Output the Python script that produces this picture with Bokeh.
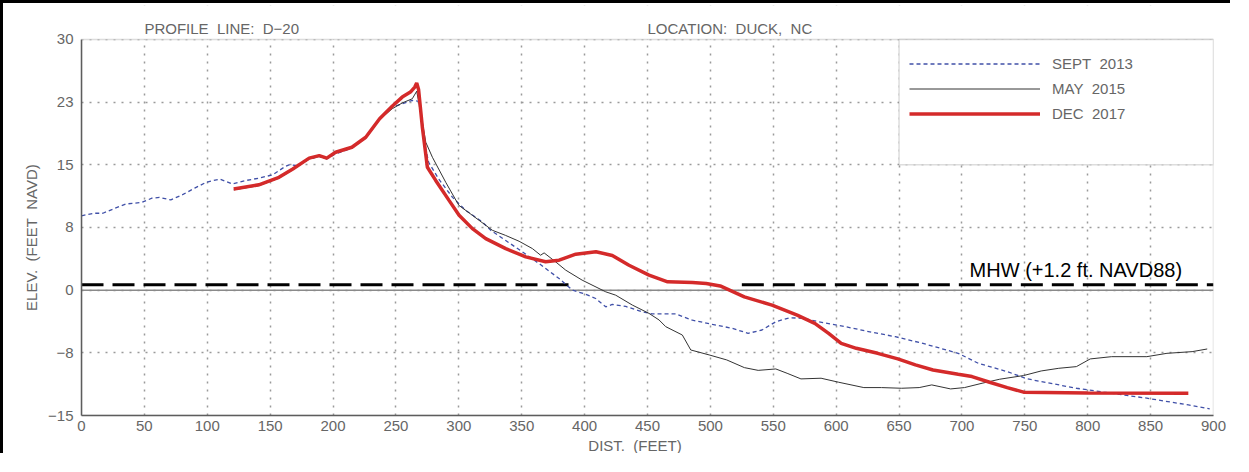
from bokeh.plotting import figure
from bokeh.models import Range1d, FixedTicker, Label, BoxAnnotation, Span, Legend, LegendItem
from bokeh.embed import file_html
from bokeh.resources import INLINE

# ---------------- data ----------------
sept_x = [0, 10, 17, 25, 35, 48, 56, 62, 71, 80, 90, 99, 110, 120, 130, 141, 152, 162, 165,
          172, 181, 189, 195, 202, 215, 226, 237, 247, 255, 263, 268, 271, 273.7, 276, 284,
          295, 305.5, 318.7, 325.4, 337, 350.5, 363.8, 379.7, 390.3, 400.9, 408.8, 416.8,
          422, 432.7, 446, 453.9, 472.4, 485.7, 501.6, 517.5, 530, 541, 552, 563, 574, 586,
          605, 624, 647, 669, 697, 713, 736, 752, 791, 813, 847, 880, 897]
sept_y = [8.9, 9.2, 9.2, 9.7, 10.3, 10.5, 11.0, 11.1, 10.8, 11.4, 12.2, 12.9, 13.3, 12.7, 13.1,
          13.4, 13.8, 14.8, 15.0, 14.9, 15.7, 16.0, 15.7, 16.3, 17.0, 18.2, 20.4, 21.9, 22.3,
          22.7, 22.6, 20.0, 16.9, 15.3, 13.3, 11.1, 9.55, 8.16, 7.16, 5.97, 4.58, 3.18, 1.39,
          0.0, -0.5, -1.0, -1.99, -1.71, -1.95, -2.6, -2.85, -2.85, -3.6, -4.09, -4.57, -5.17,
          -4.77, -3.78, -3.3, -3.38, -3.78, -4.3, -4.9, -5.57, -6.37, -7.56, -8.75, -9.75,
          -10.62, -11.74, -12.21, -12.93, -13.73, -14.2]

may_x = [121, 141, 157, 168, 181, 189, 195, 202, 215, 226, 237, 247, 255, 263, 266.5, 270,
         273.7, 279, 289.6, 300, 310.8, 326.7, 337, 347.9, 358.5, 365, 367.8, 377, 385, 398,
         416.8, 424.7, 438, 451.2, 459.2, 464.5, 477.7, 484.4, 499, 513, 527, 538, 552, 561,
         572, 588, 602, 622, 636, 652, 666, 676, 691, 702, 716, 730, 749, 763, 777, 791, 802,
         819, 847, 863, 883, 895]
may_y = [12.0, 12.5, 13.4, 14.4, 15.7, 16.0, 15.7, 16.4, 17.0, 18.2, 20.4, 21.7, 22.4, 22.9,
         23.8, 21.0, 17.7, 15.9, 12.9, 10.15, 8.95, 7.16, 6.56, 5.85, 4.97, 4.18, 4.46, 3.38,
         2.39, 1.2, -0.2, -0.6, -1.79, -2.78, -3.57, -4.37, -5.37, -7.16, -7.75, -8.35, -9.27,
         -9.6, -9.43, -9.95, -10.62, -10.54, -11.02, -11.66, -11.66, -11.74, -11.66, -11.34,
         -11.82, -11.66, -11.14, -10.66, -10.22, -9.67, -9.35, -9.15, -8.23, -7.96, -7.96,
         -7.56, -7.36, -7.04]

dec_x = [121, 141, 157, 168, 181, 189, 195, 202, 215, 226, 237, 247, 255, 261.5, 265, 266.5,
         268, 271, 273.5, 275, 281.6, 292.2, 300.2, 310.8, 321.4, 337.3, 353.2, 369, 379.7,
         393, 409, 422, 435.3, 451.2, 466, 485.7, 496.7, 507.8, 527, 549, 569, 583, 594, 604,
         616, 633, 649, 663, 677, 697, 708, 722, 736, 749, 800, 880]
dec_y = [12.1, 12.6, 13.5, 14.5, 15.8, 16.1, 15.8, 16.5, 17.1, 18.3, 20.5, 22.0, 23.1, 23.7,
         24.3, 24.8, 24.0, 19.5, 16.5, 14.7, 13.13, 10.74, 8.95, 7.36, 6.17, 4.97, 3.98, 3.39,
         3.59, 4.3, 4.6, 4.15, 2.98, 1.8, 1.0, 0.92, 0.8, 0.5, -0.8, -1.79, -2.98, -3.98,
         -5.17, -6.37, -6.96, -7.56, -8.23, -8.95, -9.55, -10.07, -10.34, -11.02, -11.66,
         -12.21, -12.3, -12.33]

mhw_x0 = [0, 525]
mhw_x1 = [393, 900]
mhw_elev = 0.65

NB = "\u00a0"
x_ticks = list(range(0, 901, 50))
y_ticks = [-15, -7.5, 0, 7.5, 15, 22.5, 30]
y_tick_labels = ["\u221215", "\u22128", "0", "8", "15", "23", "30"]
series_names = ["SEPT" + NB + " 2013", "MAY" + NB + " 2015", "DEC" + NB + " 2017"]
header_left = "PROFILE" + NB + " LINE:" + NB + " D\u221220"
header_right = "LOCATION:" + NB + " DUCK," + NB + " NC"
mhw_label = "MHW (+1.2 ft. NAVD88)"
x_title = "DIST." + NB + " (FEET)" + NB * 6
y_title = "ELEV." + NB + " (FEET" + NB + " NAVD)" + NB * 13

FONT = "Liberation Sans"
GRAY = "#666666"
FRAME = "#8f8f8f"

# y range extends above 30 so the header texts sit inside the frame
p = figure(width=1230, height=453, x_range=Range1d(0, 900), y_range=Range1d(-15, 34.06),
           output_backend="svg", toolbar_location=None,
           min_border_left=78, min_border_right=20, min_border_top=2, min_border_bottom=40,
           background_fill_color="white", border_fill_color="white")
p.styles = {"border-left": "3px solid black", "border-top": "3px solid black"}
p.outline_line_color = None

for ax in (p.xaxis[0], p.yaxis[0]):
    ax.axis_line_color = "#555555"
    ax.axis_line_width = 1.5
    ax.major_tick_line_color = None
    ax.minor_tick_line_color = None
    ax.major_label_text_color = GRAY
    ax.major_label_text_font = FONT
    ax.major_label_text_font_size = "15px"
    ax.axis_label_text_font = FONT
    ax.axis_label_text_font_style = "normal"
    ax.axis_label_text_font_size = "15px"
    ax.axis_label_text_color = GRAY

p.xaxis.ticker = FixedTicker(ticks=x_ticks)
p.xaxis.major_label_standoff = -1
p.xaxis.axis_label = x_title
p.xaxis.axis_label_standoff = 3

p.yaxis.bounds = (-15, 30)
p.yaxis.ticker = FixedTicker(ticks=y_ticks)
p.yaxis.major_label_overrides = {t: s for t, s in zip(y_ticks, y_tick_labels)}
p.yaxis.major_label_standoff = 2
p.yaxis.axis_label = y_title
p.yaxis.axis_label_standoff = 5

p.xgrid.ticker = FixedTicker(ticks=x_ticks)
p.ygrid.ticker = FixedTicker(ticks=y_ticks)
for g in (p.xgrid[0], p.ygrid[0]):
    g.grid_line_color = "#9a9a9a"
    g.grid_line_dash = "2 6"
    g.grid_line_width = 1.5

p.add_layout(Span(location=0, dimension="width", line_color="#8a8a8a", line_width=1.5,
                  level="underlay"))

# MHW line
p.segment(x0=mhw_x0, x1=mhw_x1, y0=[mhw_elev] * len(mhw_x0), y1=[mhw_elev] * len(mhw_x0),
          line_color="black", line_width=3, line_dash="22 9")

r_sept = p.line(sept_x, sept_y, line_color="#4050a8", line_width=1.3, line_dash="4 3")
r_may = p.line(may_x, may_y, line_color="#333333", line_width=1)
r_dec = p.line(dec_x, dec_y, line_color="#d42a2a", line_width=3.5)

# white band above the plotting box (hides grid lines there)
p.add_layout(BoxAnnotation(bottom=30, fill_color="white", fill_alpha=1, line_alpha=0))
# plotting box outline
p.add_layout(BoxAnnotation(left=0, right=900, bottom=-15, top=30, fill_alpha=0,
                           line_color=FRAME, line_width=1.5))
# legend frame
p.add_layout(BoxAnnotation(left=650, right=900, bottom=15, top=30, fill_color="white",
                           fill_alpha=1, line_color=FRAME, line_width=1.5))
legend = Legend(items=[LegendItem(label=series_names[0], renderers=[r_sept]),
                       LegendItem(label=series_names[1], renderers=[r_may]),
                       LegendItem(label=series_names[2], renderers=[r_dec])],
                location=(828, 289), margin=0, padding=0, spacing=0,
                glyph_width=131, glyph_height=25, label_height=25, label_standoff=12,
                border_line_color=None, background_fill_alpha=0,
                label_text_font=FONT, label_text_font_size="15px", label_text_color=GRAY)
p.add_layout(legend)

p.add_layout(Label(x=875, y=2.45, text=mhw_label, text_align="right",
                   text_baseline="alphabetic", text_font=FONT, text_font_size="20px",
                   text_color="black"))
p.add_layout(Label(x=50, y=31.25, text=header_left, text_align="left",
                   text_baseline="middle", text_font=FONT, text_font_size="15px",
                   text_color=GRAY))
p.add_layout(Label(x=450, y=31.25, text=header_right, text_align="left",
                   text_baseline="middle", text_font=FONT, text_font_size="15px",
                   text_color=GRAY))

open("out.html", "w").write(file_html(p, INLINE))
